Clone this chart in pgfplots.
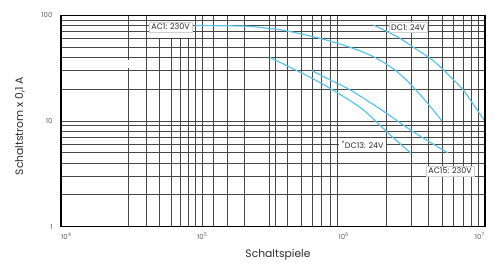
\documentclass[border=0pt]{standalone}
\usepackage{fontspec}
\setmainfont{Poppins}
\usepackage{pgfplots}
\pgfplotsset{compat=1.18}
\definecolor{curve}{RGB}{90,195,235}
\definecolor{gridc}{RGB}{70,70,70}
\definecolor{tickc}{RGB}{95,95,95}
\definecolor{labc}{RGB}{45,45,45}
\tikzset{gridline/.style={draw=gridc, line width=0.8bp},
  lab/.style={fill=white, draw=black!18, line width=0.4bp, inner sep=2.2bp, font=\fontsize{8}{9}\selectfont, text=labc},
  crv/.style={draw=curve, line width=1.2bp, smooth, tension=0.5, mark=none}}
\begin{document}
\begin{tikzpicture}
\path[use as bounding box] (-61bp,-41.3bp) rectangle (439bp,226.7bp);
\begin{axis}[name=ax, at={(0,0)}, anchor=south west, scale only axis,
  width=424bp, height=211.4bp,
  xmode=log, ymode=log, xmin=1e4, xmax=1e7, ymin=1, ymax=100,
  xtick={1.09e4,1e5,1e6,9.2e6},
  xticklabels={10\textsuperscript{4},10\textsuperscript{5},10\textsuperscript{6},10\textsuperscript{7}},
  ytick={1,10,100}, yticklabels={1,10,100},
  xminorticks=false, yminorticks=false,
  major tick length=0pt,
  tick label style={font=\fontsize{7}{8}\selectfont, text=tickc},
  xticklabel style={yshift=-3bp},
  yticklabel style={xshift=-5bp},
  axis on top,
  axis line style={line width=1.3bp, black},
  clip=false]
\pgfplotsinvokeforeach{3e4,4e4,9e4,1e5,1.2e5,1.5e5,2e5,3e5,3.3e5,4e5,5e5,6e5,7e5,8e5,9e5,2e6,3e6,4e6,5e6,6e6,7e6,8e6,9e6}{\draw[gridline] (axis cs:#1,1) -- (axis cs:#1,100);}
\pgfplotsinvokeforeach{5e4,6e4,7e4,8e4}{\draw[gridline] (axis cs:#1,1) -- (axis cs:#1,60);}
\pgfplotsinvokeforeach{2,3,4,5,6,7,8,9,10,20,30,40,50,60,70,80,90}{\draw[gridline] (axis cs:1e4,#1) -- (axis cs:1e7,#1);}
\fill[white] (axis cs:1.02e4,38) rectangle (axis cs:3.9e4,31.5);
% AC1: 230V
\addplot[crv] coordinates {(8.9e4,80) (2e5,79) (3e5,75) (4e5,71) (6e5,63) (8e5,57) (1.1e6,50) (1.6e6,41) (2.3e6,30.5) (3.1e6,21) (4.1e6,13.7) (4.95e6,10)};
% DC1: 24V
\addplot[crv] coordinates {(1.62e6,81) (2.38e6,63) (3.1e6,50) (4.1e6,39) (5.1e6,30.4) (6e6,24.4) (7e6,19.7) (8.5e6,13.6) (1e7,9.9)};
% DC13: 24V
\addplot[crv] coordinates {(3e5,40) (6.1e5,25) (1e6,17) (1.4e6,12.5) (2.13e6,7.4) (3e6,4.95)};
% AC15: 230V
\addplot[crv] coordinates {(5.94e5,30) (8e5,24.5) (1.11e6,19.7) (1.86e6,12.7) (3.11e6,7.9) (5.45e6,5.0)};
\node[lab] at (axis cs:5.96e4,77.4) {AC1: 230V};
\node[lab] at (axis cs:2.86e6,77) {DC1: 24V};
\node[lab, draw=none] at (axis cs:1.36e6,5.93) {\textsuperscript{*}DC13: 24V};
\node[lab] at (axis cs:5.66e6,3.36) {AC15: 230V};
\end{axis}
\node[rotate=90, font=\fontsize{10.8}{13}\selectfont, text=labc] at ([xshift=-41bp, yshift=-5bp]ax.west) {Schaltstrom x 0,1 A};
\node[font=\fontsize{10.8}{13}\selectfont, text=labc] at ([yshift=-28bp, xshift=5bp]ax.south) {Schaltspiele};
\end{tikzpicture}
\end{document}
